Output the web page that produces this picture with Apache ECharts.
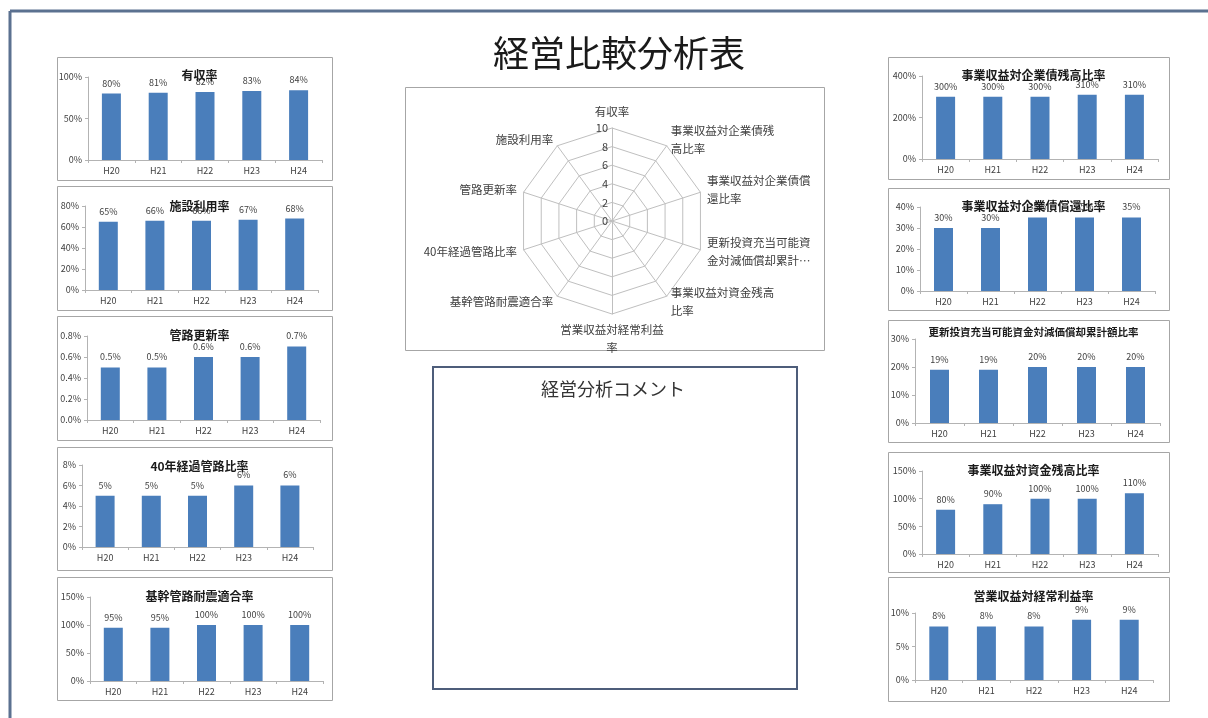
<!DOCTYPE html>
<html><head><meta charset="utf-8">
<script src="https://cdn.jsdelivr.net/npm/echarts@6/dist/echarts.min.js"></script>
<style>html,body{margin:0;padding:0;background:#fff;}#c{width:1208px;height:718px;}</style>
</head><body><div id="c"></div>
<script>
// ---- data ----
const years = ['H20', 'H21', 'H22', 'H23', 'H24'];
// left column
const yushuRitsu = [80, 81, 82, 83, 84];
const shisetsuRiyoRitsu = [65, 66, 66, 67, 68];
const kanroKoshinRitsu = [0.5, 0.5, 0.6, 0.6, 0.7];
const keika40Ritsu = [5, 5, 5, 6, 6];
const taishinTekigoRitsu = [95, 95, 100, 100, 100];
// right column
const kigyosaiZandakaRitsu = [300, 300, 300, 310, 310];
const kigyosaiShokanRitsu = [30, 30, 35, 35, 35];
const genkaShokyakuRitsu = [19, 19, 20, 20, 20];
const shikinZandakaRitsu = [80, 90, 100, 100, 110];
const keijoRiekiRitsu = [8, 8, 8, 9, 9];
// chart titles
const chartTitles = ['有収率', '施設利用率', '管路更新率', '40年経過管路比率', '基幹管路耐震適合率',
  '事業収益対企業債残高比率', '事業収益対企業債償還比率', '更新投資充当可能資金対減価償却累計額比率',
  '事業収益対資金残高比率', '営業収益対経常利益率'];
// y-axis ticks (max and step, min is 0)
const axisMax = [100, 80, 0.8, 8, 150, 400, 40, 30, 150, 10];
const axisStep = [50, 20, 0.2, 2, 50, 200, 10, 10, 50, 5];
const axisDecimals = [0, 0, 1, 0, 0, 0, 0, 0, 0, 0];
// radar (order counter-clockwise from top)
const radarNames = ['有収率', '施設利用率', '管路更新率', '40年経過管路比率', '基幹管路耐震適合率',
  '営業収益対経常利益\n率', '事業収益対資金残高\n比率', '更新投資充当可能資\n金対減価償却累計…',
  '事業収益対企業債償\n還比率', '事業収益対企業債残\n高比率'];
const radarMax = 10;
const radarStep = 2;

const seriesData = [yushuRitsu, shisetsuRiyoRitsu, kanroKoshinRitsu, keika40Ritsu, taishinTekigoRitsu,
  kigyosaiZandakaRitsu, kigyosaiShokanRitsu, genkaShokyakuRitsu, shikinZandakaRitsu, keijoRiekiRitsu];

// ---- layout ----
const FONT = '"Noto Sans CJK JP", "Noto Sans", sans-serif';
const layout = [
  {fx: 57, fy: 57, fw: 275, fh: 123, gl: 88, gr: 322, gt: 77, gb: 160, ty: 72, ts: 12},
  {fx: 57, fy: 186, fw: 275, fh: 124, gl: 85, gr: 318, gt: 206, gb: 290, ty: 203, ts: 12},
  {fx: 57, fy: 316, fw: 275, fh: 124, gl: 87, gr: 320, gt: 336, gb: 420, ty: 332, ts: 12},
  {fx: 57, fy: 447, fw: 275, fh: 123, gl: 82, gr: 313, gt: 465, gb: 547, ty: 463, ts: 12},
  {fx: 57, fy: 577, fw: 275, fh: 123, gl: 90, gr: 323, gt: 597, gb: 681, ty: 593, ts: 12},
  {fx: 888, fy: 57, fw: 281, fh: 122, gl: 922, gr: 1158, gt: 76, gb: 159, ty: 72, ts: 12},
  {fx: 888, fy: 188, fw: 281, fh: 122, gl: 920, gr: 1155, gt: 207, gb: 291, ty: 203, ts: 12},
  {fx: 888, fy: 320, fw: 281, fh: 122, gl: 915, gr: 1160, gt: 339, gb: 423, ty: 330, ts: 10.5},
  {fx: 888, fy: 452, fw: 281, fh: 120, gl: 922, gr: 1158, gt: 471, gb: 554, ty: 467, ts: 12},
  {fx: 888, fy: 577, fw: 281, fh: 124, gl: 915, gr: 1153, gt: 613, gb: 680, ty: 593, ts: 12}
];

const W = 1208, H = 718;
const grids = [], xAxes = [], yAxes = [], series = [], titles = [], graphics = [];

titles.push({text: '経営比較分析表', left: 614, top: 30, textAlign: 'center',
  textStyle: {fontFamily: FONT, fontSize: 36, fontWeight: 'normal', color: '#1a1a1a'}});

// outer page border
graphics.push({type: 'line', shape: {x1: 10, y1: 11, x2: W, y2: 11}, style: {stroke: '#5b7190', lineWidth: 3}, z: 0});
graphics.push({type: 'line', shape: {x1: 10, y1: 11, x2: 10, y2: H}, style: {stroke: '#5b7190', lineWidth: 3}, z: 0});

layout.forEach((L, i) => {
  graphics.push({type: 'rect', shape: {x: L.fx + 0.5, y: L.fy + 0.5, width: L.fw, height: L.fh},
    style: {fill: '#fff', stroke: '#a6a6a6', lineWidth: 1}, z: -10});
  grids.push({left: L.gl, top: L.gt, width: L.gr - L.gl, height: L.gb - L.gt, outerBoundsMode: 'none', containLabel: false});
  const dec = axisDecimals[i];
  xAxes.push({type: 'category', gridIndex: i, data: years,
    axisLine: {lineStyle: {color: '#b3b3b3'}},
    axisTick: {show: true, length: 3, lineStyle: {color: '#b3b3b3'}},
    axisLabel: {fontFamily: FONT, fontSize: 9, color: '#404040', margin: 6}});
  yAxes.push({type: 'value', gridIndex: i, min: 0, max: axisMax[i], interval: axisStep[i],
    axisLine: {show: true, lineStyle: {color: '#b3b3b3'}},
    axisTick: {show: true, length: 3, lineStyle: {color: '#b3b3b3'}},
    splitLine: {show: false},
    axisLabel: {fontFamily: FONT, fontSize: 9, color: '#404040', margin: 6,
      formatter: v => v.toFixed(dec) + '%'}});
  series.push({type: 'bar', xAxisIndex: i, yAxisIndex: i, data: seriesData[i], barWidth: 19,
    itemStyle: {color: '#4a7ebb'}, silent: true,
    label: {show: true, position: 'top', distance: 6, fontFamily: FONT, fontSize: 9, color: '#404040',
      formatter: p => Number(p.value).toFixed(dec) + '%'}});
  titles.push({text: chartTitles[i], left: L.fx + L.fw / 2, top: L.ty - 8, textAlign: 'center',
    textStyle: {fontFamily: FONT, fontSize: L.ts, fontWeight: 'bold', color: '#1a1a1a'}});
});

// radar frame
graphics.push({type: 'rect', shape: {x: 405.5, y: 87.5, width: 419, height: 263},
  style: {fill: '#fff', stroke: '#a6a6a6', lineWidth: 1}, z: -10});
// comment box
graphics.push({type: 'rect', shape: {x: 433, y: 367, width: 364, height: 322},
  style: {fill: '#fff', stroke: '#4d5d7a', lineWidth: 2}, z: -10});
graphics.push({type: 'text', x: 613, y: 389,
  style: {text: '経営分析コメント', fontFamily: FONT, fontSize: 18, fill: '#333', textAlign: 'center', textVerticalAlign: 'middle'}});

const indicators = radarNames.map((n, i) => {
  const o = {name: n, min: 0, max: radarMax};
  if (i === 0) o.axisLabel = {show: true};
  return o;
});

const option = {
  animation: false,
  backgroundColor: '#fff',
  title: titles,
  grid: grids,
  xAxis: xAxes,
  yAxis: yAxes,
  radar: {
    center: [612, 221], radius: 93, shape: 'polygon', startAngle: 90,
    splitNumber: radarMax / radarStep,
    indicator: indicators,
    nameGap: 7,
    axisName: {fontFamily: FONT, fontSize: 11.5, color: '#404040', lineHeight: 18},
    axisLine: {lineStyle: {color: '#bfbfbf'}},
    splitLine: {lineStyle: {color: '#bfbfbf'}},
    splitArea: {show: false},
    axisTick: {show: false},
    axisLabel: {show: false, fontFamily: FONT, fontSize: 11, color: '#404040', margin: 4}
  },
  series: series.concat([{type: 'radar', data: []}]),
  graphic: graphics
};

const chart = echarts.init(document.getElementById('c'), null, {renderer: 'canvas'});
chart.setOption(option);
</script>
</body></html>
